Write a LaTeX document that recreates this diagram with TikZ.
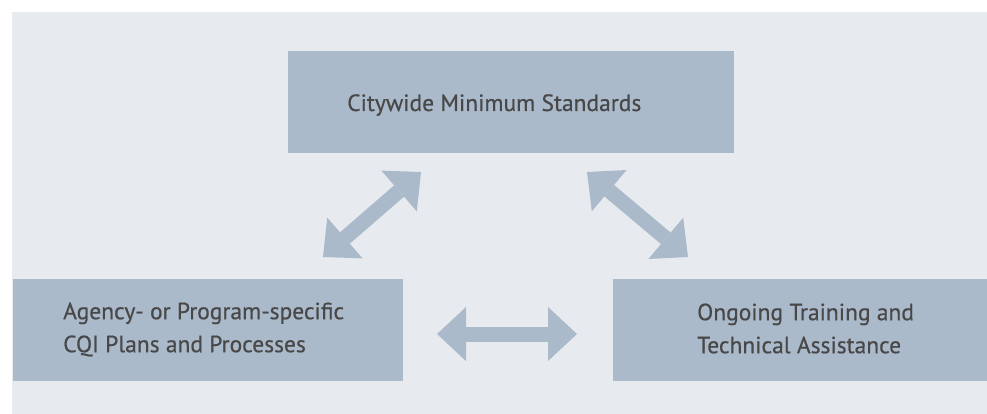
\documentclass[tikz,border=0pt]{standalone}
\usepackage{fontspec}
\setmainfont{PT Sans}
\newfontfamily\lblfont{PT Sans}[FakeBold=0.5]
\usetikzlibrary{arrows.meta}
\definecolor{bgc}{HTML}{E7EAEF}
\definecolor{boxc}{HTML}{ABBACA}
\definecolor{txtc}{HTML}{484848}
\begin{document}
\begin{tikzpicture}[x=1pt,y=-1pt,
  box/.style={fill=boxc, draw=none, inner sep=0pt, anchor=north west},
  lbl/.style={text=txtc, font=\lblfont\fontsize{23.5}{33}\selectfont, align=left, inner sep=0pt},
  dbl/.style={draw=boxc, line width=15pt, {Triangle[length=29pt,width=54pt,line width=0pt]}-{Triangle[length=29pt,width=54pt,line width=0pt]}}]
\useasboundingbox (0,0) rectangle (987,414);
\fill[bgc] (12,12) rectangle (987,414);
% boxes
\node[box, minimum width=446pt, minimum height=102pt] (top) at (288,51) {};
\node[box, minimum width=390pt, minimum height=102pt] (left) at (13,279) {};
\node[box, minimum width=374pt, minimum height=102pt] (right) at (613,279) {};
% labels
\node[lbl, anchor=base west] (toptxt) at (347,111) {Citywide Minimum Standards};
\node[lbl, anchor=west] (lefttxt) at (63,329.5) {Agency- or Program-specific\\CQI Plans and Processes};
\node[lbl, anchor=west] (righttxt) at (697,328.5) {Ongoing Training and\\Technical Assistance};
% arrow end points
\coordinate (a1) at (323,257);
\coordinate (a2) at (421,172);
\coordinate (b1) at (587,172);
\coordinate (b2) at (688,257);
\coordinate (c1) at (437,334);
\coordinate (c2) at (577,334);
\draw[dbl] (a1) -- (a2);
\draw[dbl] (b1) -- (b2);
\draw[dbl] (c1) -- (c2);
\end{tikzpicture}
\end{document}
